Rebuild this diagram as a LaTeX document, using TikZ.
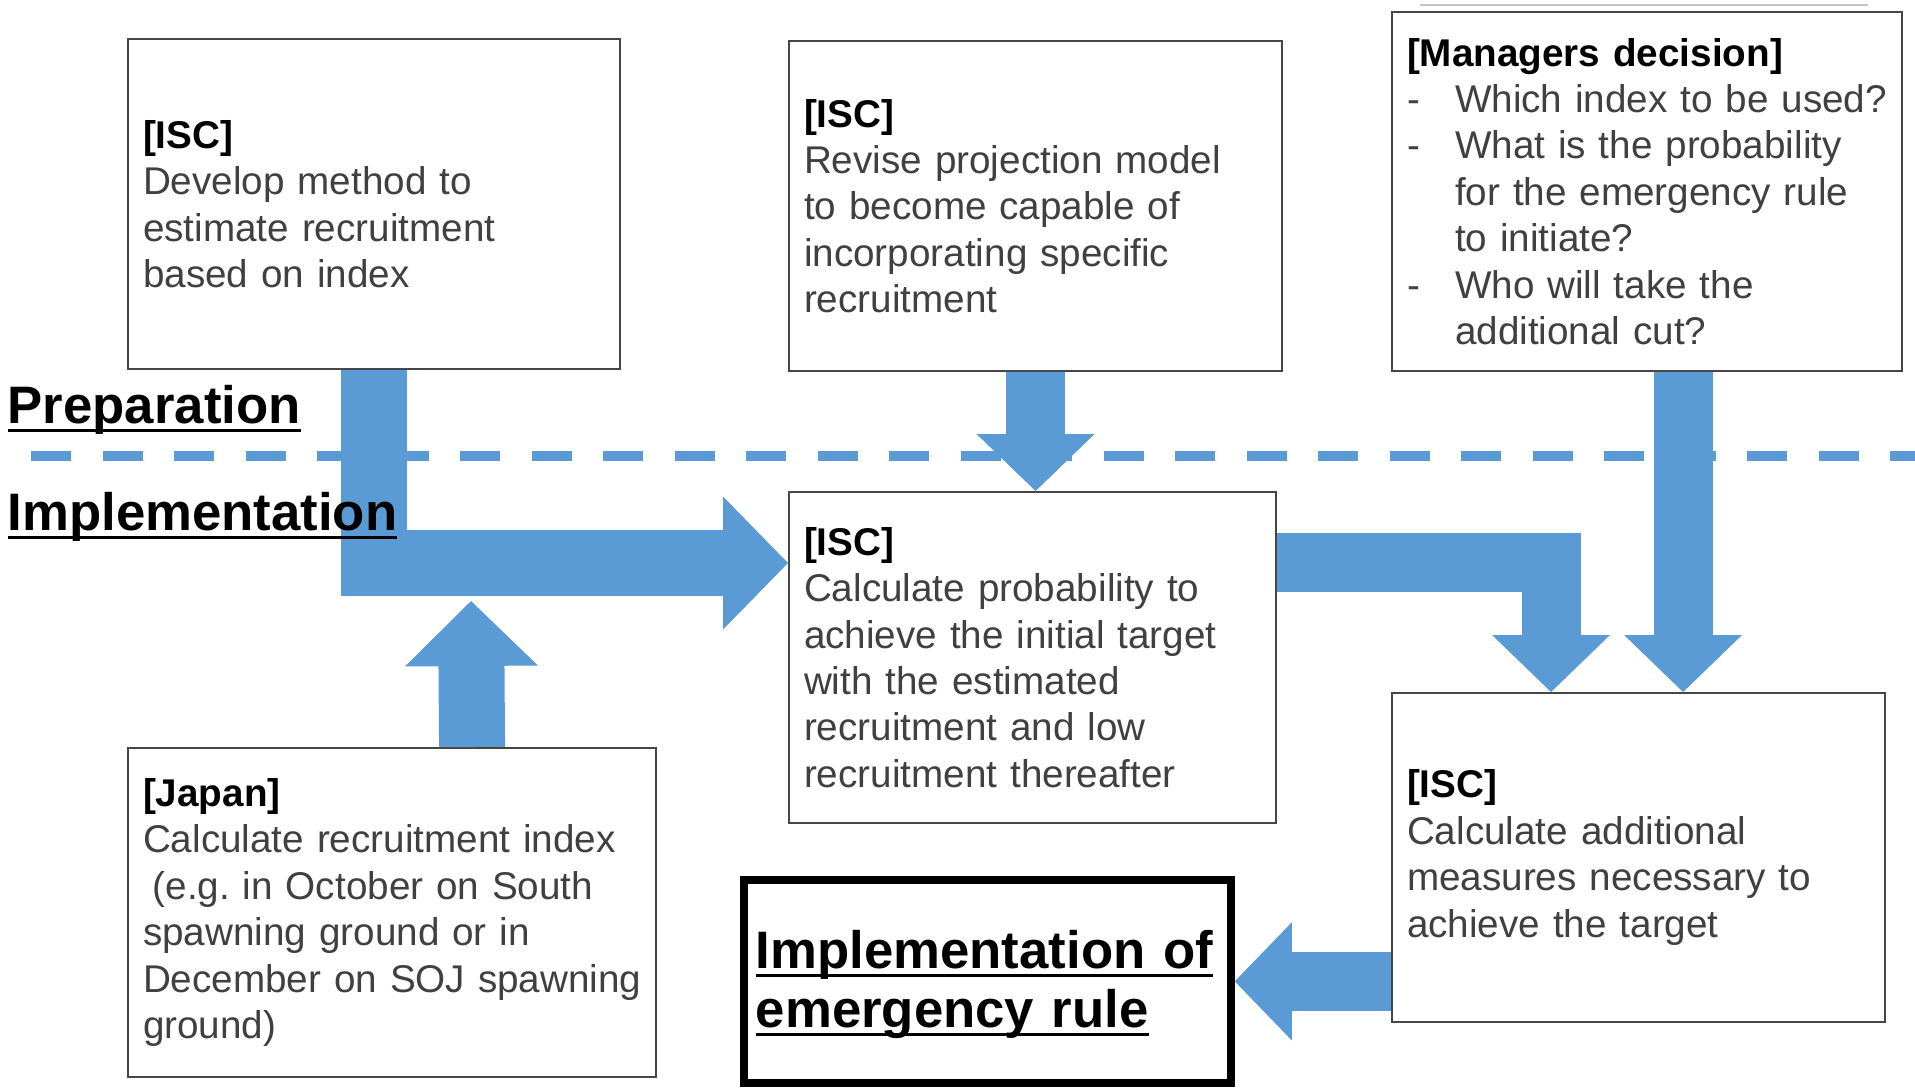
\documentclass[tikz,border=0pt]{standalone}
\usepackage{fontspec}
\setmainfont{Liberation Sans}
\usepackage{tikz}
\usetikzlibrary{arrows.meta,positioning}
\usepackage{xcolor}
\definecolor{flowblue}{RGB}{91,155,213}
\definecolor{boxgray}{RGB}{70,70,70}
\definecolor{textgray}{RGB}{64,64,64}
\frenchspacing
\newcommand{\undertext}[1]{\leavevmode\setbox0\hbox{#1}\rlap{\rule[-0.17em]{\wd0}{0.06em}}\box0}
\newcommand{\hdr}[1]{{\color{black}\bfseries #1}}
\newcommand{\dashitem}{\makebox[0.48cm][l]{-}}
\newcommand{\itemcont}{\hspace*{0.48cm}}
\tikzstyle{box} = [draw=boxgray, line width=0.6pt, fill=white, anchor=north west, align=left, inner xsep=0.15cm, inner ysep=0pt, text=textgray, font=\fontsize{11pt}{13.2pt}\selectfont]
\tikzstyle{fatarrow} = [draw=flowblue, line width=0.59cm, -{Triangle[width=1.18cm,length=0.57cm,line width=0pt]}]
\tikzstyle{bigarrow} = [fatarrow, line width=0.66cm, -{Triangle[width=1.33cm,length=0.65cm,line width=0pt]}]
\tikzstyle{phase} = [anchor=base west, inner sep=0pt, font=\fontsize{15pt}{19.6pt}\selectfont\bfseries]
\tikzstyle{divider} = [draw=flowblue, line width=0.1cm, dash pattern=on 0.40cm off 0.315cm]

\begin{document}
\begin{tikzpicture}[x=1cm, y=-1cm]
\useasboundingbox (0,0) rectangle (19.15,10.91);

% phase divider
\draw[divider] (0.31,4.56) -- (19.15,4.56);
\draw[gray!45, line width=0.8pt] (14.2,0.05) -- (18.68,0.05);

% preparation boxes
\node[box, text width=4.62cm, minimum height=3.30cm] (devel) at (1.27,0.38)
  {\hdr{[ISC]}\\Develop method to\\estimate recruitment\\based on index};
\node[box, text width=4.63cm, minimum height=3.30cm] (revise) at (7.88,0.40)
  {\hdr{[ISC]}\\Revise projection model\\to become capable of\\incorporating specific\\recruitment};
\node[box, text width=4.80cm, minimum height=3.59cm] (managers) at (13.91,0.11)
  {\hdr{[Managers decision]}\\\dashitem Which index to be used?\\\dashitem What is the probability\\\itemcont for the emergency rule\\\itemcont to initiate?\\\dashitem Who will take the\\\itemcont additional cut?};

% implementation boxes
\node[box, text width=4.57cm, minimum height=3.31cm] (calcprob) at (7.88,4.91)
  {\hdr{[ISC]}\\Calculate probability to\\achieve the initial target\\with the estimated\\recruitment and low\\recruitment thereafter};
\node[box, text width=4.98cm, minimum height=3.29cm] (japan) at (1.27,7.47)
  {\hdr{[Japan]}\\\mbox{Calculate recruitment index}\\\mbox{\hspace*{0.25em}(e.g. in October on South}\\spawning ground or in\\\mbox{December on SOJ spawning}\\ground)};
\node[box, text width=4.63cm, minimum height=3.29cm] (addmeas) at (13.91,6.92)
  {\hdr{[ISC]}\\Calculate additional\\measures necessary to\\achieve the target};
\node[box, draw=black, line width=2.2pt, text=black, text width=4.63cm, inner xsep=0.12cm, minimum height=2.03cm, font=\fontsize{15pt}{16.9pt}\selectfont\bfseries] (emerg) at (7.40,8.76)
  {\rule{0pt}{0.44cm}\undertext{Implementation of}\\\undertext{emergency rule}};

\coordinate (merge) at (4.71,6.01);

% flow arrows
\draw[bigarrow] (devel.south) |- ([yshift=-0.72cm]calcprob.north west);
\draw[fatarrow] (revise.south) -- (revise.south |- calcprob.north);
\draw[fatarrow] ([xshift=0.36cm]managers.south) -- ([xshift=0.36cm]managers.south |- addmeas.north);
\draw[fatarrow] ([yshift=-0.715cm]calcprob.north east) -| ([xshift=1.6cm]addmeas.north west);
\draw[bigarrow] ([xshift=0.8cm]japan.north) -- (merge);
\draw[fatarrow] (addmeas.west |- emerg.east) -- (emerg.east);

% phase labels
\node[phase] (prep) at (0.07,4.23) {\undertext{Preparation}};
\node[phase] (impl) at (0.07,5.30) {\undertext{Implementation}};
\end{tikzpicture}
\end{document}
